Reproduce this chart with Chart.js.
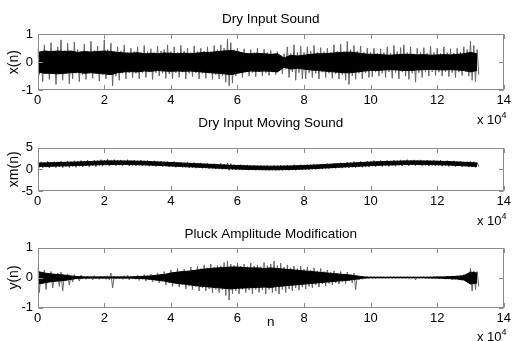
<!DOCTYPE html>
<html><head><meta charset="utf-8">
<script src="https://cdn.jsdelivr.net/npm/chart.js@4.4.1/dist/chart.umd.min.js"></script>
<style>
html,body{margin:0;padding:0;background:#fff;overflow:hidden;width:514px;height:341px;}
canvas{position:absolute;left:0;}
.exp{position:absolute;left:477px;font:13px "Liberation Sans",Arial,sans-serif;line-height:15px;color:#000;white-space:nowrap;}
.exp sup{font-size:9px;vertical-align:6px;line-height:0;}
</style></head><body>
<canvas id="c1" width="514" height="110" style="top:0px"></canvas>
<canvas id="c2" width="514" height="106" style="top:105px"></canvas>
<canvas id="c3" width="514" height="130" style="top:211px"></canvas>
<div class="exp" style="top:112px">x 10<sup>4</sup></div>
<div class="exp" style="top:213px">x 10<sup>4</sup></div>
<div class="exp" style="top:329px">x 10<sup>4</sup></div>
<script>
// ---- tick labels / axes ----
const xTickValues = [0, 20000, 40000, 60000, 80000, 100000, 120000, 140000];
const titles = ['Dry Input Sound', 'Dry Input Moving Sound', 'Pluck Amplitude Modification'];
const yLabels = ['x(n)', 'xm(n)', 'y(n)'];
const SPIKE_STEP = 1000;   // samples between envelope readings (spikes)
const CORE_STEP = 2000;    // samples between envelope readings (dense core)

// ---- x(n): Dry Input Sound ----
const xSpikeHi = [0.5,0.35,0.62,0.4,0.7,0.38,0.55,0.8,0.42,0.68,
 0.4,0.72,0.45,0.38,0.65,0.4,0.75,0.42,0.58,0.4,
 0.8,0.45,0.68,0.38,0.55,0.4,0.62,0.35,0.5,0.38,
 0.55,0.36,0.6,0.38,0.48,0.35,0.58,0.4,0.45,0.62,
 0.38,0.55,0.36,0.6,0.4,0.5,0.35,0.58,0.38,0.5,
 0.4,0.55,0.38,0.6,0.45,0.62,0.5,0.82,0.7,0.45,
 0.5,0.35,0.48,0.32,0.45,0.35,0.5,0.32,0.46,0.35,
 0.42,0.3,0.38,0.25,0.3,0.55,0.3,0.62,0.35,0.58,
 0.35,0.55,0.4,0.6,0.36,0.52,0.38,0.5,0.35,0.62,
 0.4,0.65,0.38,0.75,0.45,0.6,0.4,0.58,0.35,0.5,
 0.36,0.5,0.32,0.48,0.35,0.55,0.33,0.6,0.38,0.52,
 0.62,0.35,0.55,0.3,0.5,0.36,0.52,0.32,0.58,0.35,
 0.5,0.32,0.55,0.35,0.48,0.33,0.5,0.36,0.55,0.45,
 0.75,0.6,0.45];
const xSpikeLo = [-0.45,-0.7,-0.38,-0.62,-0.4,-0.8,-0.42,-0.65,-0.4,-0.78,
 -0.6,-0.4,-0.7,-0.45,-0.62,-0.4,-0.58,-0.42,-0.68,-0.45,
 -0.6,-0.42,-0.85,-0.5,-0.65,-0.4,-0.6,-0.38,-0.55,-0.4,
 -0.6,-0.38,-0.55,-0.36,-0.62,-0.38,-0.5,-0.4,-0.58,-0.42,
 -0.6,-0.38,-0.55,-0.36,-0.6,-0.4,-0.52,-0.38,-0.6,-0.4,
 -0.58,-0.4,-0.62,-0.45,-0.6,-0.5,-0.72,-0.85,-0.75,-0.5,
 -0.38,-0.55,-0.36,-0.5,-0.38,-0.52,-0.35,-0.5,-0.38,-0.48,
 -0.36,-0.45,-0.32,-0.42,-0.25,-0.55,-0.35,-0.65,-0.38,-0.6,
 -0.6,-0.38,-0.55,-0.4,-0.6,-0.36,-0.55,-0.4,-0.58,-0.42,
 -0.6,-0.45,-0.65,-0.8,-0.5,-0.62,-0.4,-0.6,-0.38,-0.55,
 -0.52,-0.36,-0.5,-0.4,-0.55,-0.35,-0.58,-0.38,-0.6,-0.36,
 -0.5,-0.62,-0.4,-0.72,-0.38,-0.55,-0.36,-0.5,-0.35,-0.48,
 -0.36,-0.5,-0.35,-0.52,-0.38,-0.55,-0.36,-0.48,-0.35,-0.5,
 -0.65,-0.7,-0.45];
const xCoreHi = [0.35,0.4,0.38,0.4,0.38,0.4,0.35,0.38,0.36,0.38,0.4,
 0.38,0.35,0.33,0.32,0.34,0.3,0.32,0.3,0.33,0.32,
 0.3,0.32,0.3,0.33,0.35,0.35,0.38,0.4,0.42,0.38,
 0.32,0.3,0.32,0.3,0.28,0.3,0.15,0.25,0.22,0.25,
 0.28,0.3,0.3,0.32,0.34,0.35,0.36,0.33,0.3,0.28,
 0.28,0.26,0.25,0.27,0.28,0.28,0.26,0.27,0.25,0.26,
 0.27,0.26,0.28,0.3,0.35,0.3];
const xCoreLo = [-0.35,-0.4,-0.4,-0.42,-0.4,-0.38,-0.36,-0.4,-0.38,-0.4,-0.42,
 -0.45,-0.38,-0.35,-0.34,-0.35,-0.32,-0.33,-0.3,-0.32,-0.33,
 -0.32,-0.33,-0.32,-0.34,-0.36,-0.38,-0.4,-0.42,-0.45,-0.4,
 -0.35,-0.32,-0.33,-0.32,-0.33,-0.35,-0.18,-0.25,-0.22,-0.25,
 -0.28,-0.3,-0.32,-0.34,-0.36,-0.38,-0.38,-0.35,-0.32,-0.3,
 -0.3,-0.28,-0.27,-0.28,-0.3,-0.3,-0.28,-0.27,-0.26,-0.27,
 -0.28,-0.27,-0.28,-0.3,-0.35,-0.3];

// ---- xm(n): Dry Input Moving Sound ----
const xmSpikeHi = [1.55,1.7,1.6,1.8,1.6,1.75,1.7,1.85,1.7,1.9,
 1.75,1.95,1.8,2.0,1.85,2.05,1.9,2.1,2.0,2.2,
 2.05,2.3,2.05,2.2,2.05,2.15,2.0,2.2,2.0,2.1,
 1.95,2.1,1.95,2.05,1.85,1.95,1.8,1.9,1.75,1.8,
 1.65,1.75,1.6,1.65,1.5,1.6,1.45,1.55,1.4,1.45,
 1.3,1.4,1.25,1.3,1.2,1.35,1.2,1.45,1.3,1.1,
 1.0,1.05,0.95,1.0,0.9,0.95,0.85,0.9,0.85,0.9,
 0.8,0.9,0.85,0.95,0.85,1.0,0.9,1.05,0.95,1.05,
 1.0,1.1,1.05,1.15,1.1,1.2,1.2,1.3,1.25,1.4,
 1.35,1.5,1.45,1.65,1.55,1.75,1.65,1.8,1.7,1.9,
 1.8,2.0,1.85,2.0,1.9,2.05,1.95,2.1,2.0,2.15,
 2.05,2.2,2.05,2.15,2.0,2.15,2.0,2.1,1.95,2.05,
 1.95,2.05,1.9,2.0,1.85,1.95,1.8,1.85,1.7,1.75,
 1.8,1.75,1.5];
const xmSpikeLo = [0.45,0.35,0.5,0.3,0.55,0.4,0.55,0.35,0.6,0.4,
 0.65,0.45,0.7,0.5,0.75,0.55,0.8,0.6,0.85,0.7,
 0.9,0.75,0.95,0.8,0.95,0.8,0.95,0.75,0.9,0.8,
 0.9,0.75,0.85,0.7,0.8,0.65,0.75,0.6,0.7,0.55,
 0.6,0.45,0.55,0.4,0.45,0.3,0.4,0.25,0.35,0.2,
 0.25,0.1,0.2,0.05,0.1,-0.05,0.0,-0.25,-0.1,-0.15,
 -0.1,-0.2,-0.15,-0.22,-0.2,-0.25,-0.22,-0.25,-0.25,-0.28,
 -0.25,-0.3,-0.25,-0.28,-0.22,-0.28,-0.2,-0.25,-0.15,-0.2,
 -0.1,-0.15,0.0,-0.05,0.1,0.05,0.15,0.1,0.25,0.2,
 0.3,0.25,0.4,0.3,0.45,0.35,0.5,0.45,0.6,0.5,
 0.7,0.55,0.75,0.6,0.8,0.65,0.85,0.7,0.9,0.75,
 0.95,0.8,0.95,0.8,0.95,0.8,0.9,0.75,0.9,0.75,
 0.85,0.7,0.85,0.65,0.8,0.6,0.75,0.55,0.7,0.5,
 0.5,0.4,0.6];
const xmCoreHi = [1.4,1.45,1.5,1.55,1.58,1.62,1.68,1.73,1.78,1.84,1.9,
 1.92,1.92,1.9,1.88,1.85,1.82,1.75,1.68,1.62,1.55,
 1.48,1.4,1.35,1.28,1.2,1.12,1.05,0.98,0.9,0.85,
 0.8,0.76,0.73,0.7,0.7,0.7,0.72,0.75,0.8,0.85,
 0.92,1.0,1.08,1.16,1.25,1.33,1.4,1.48,1.55,1.65,
 1.7,1.76,1.8,1.85,1.9,1.92,1.92,1.9,1.88,1.85,
 1.8,1.75,1.68,1.6,1.52,1.45];
const xmCoreLo = [0.6,0.65,0.7,0.75,0.78,0.82,0.88,0.93,0.98,1.04,1.1,
 1.12,1.12,1.1,1.08,1.05,1.02,0.95,0.88,0.82,0.75,
 0.68,0.6,0.55,0.48,0.4,0.32,0.25,0.18,0.1,0.05,
 0.0,-0.04,-0.07,-0.1,-0.1,-0.1,-0.08,-0.05,0.0,0.05,
 0.12,0.2,0.28,0.36,0.45,0.53,0.6,0.68,0.75,0.85,
 0.9,0.96,1.0,1.05,1.1,1.12,1.12,1.1,1.08,1.05,
 1.0,0.95,0.88,0.8,0.72,0.65];

// ---- y(n): Pluck Amplitude Modification ----
const ySpikeHi = [0.35,0.15,0.25,0.1,0.2,0.08,0.15,0.18,0.06,0.12,
 0.05,0.1,0.04,0.08,0.03,0.05,0.04,0.06,0.03,0.05,
 0.04,0.06,0.15,0.04,0.05,0.03,0.06,0.08,0.04,0.05,
 0.08,0.04,0.1,0.06,0.12,0.08,0.15,0.1,0.2,0.12,
 0.25,0.18,0.3,0.2,0.28,0.22,0.35,0.25,0.38,0.3,
 0.42,0.32,0.45,0.35,0.4,0.38,0.5,0.55,0.45,0.4,
 0.48,0.38,0.45,0.36,0.48,0.38,0.42,0.36,0.5,0.4,
 0.45,0.55,0.4,0.48,0.35,0.42,0.32,0.38,0.3,0.38,
 0.28,0.35,0.25,0.32,0.22,0.3,0.2,0.25,0.18,0.22,
 0.15,0.2,0.12,0.18,0.1,0.15,0.06,0.05,0.03,0.03,
 0.03,0.02,0.02,0.02,0.02,0.02,0.02,0.02,0.02,0.02,
 0.02,0.02,0.02,0.03,0.02,0.02,0.03,0.02,0.03,0.03,
 0.03,0.04,0.03,0.04,0.05,0.04,0.06,0.08,0.1,0.12,
 0.3,0.22,0.2];
const ySpikeLo = [-0.5,-0.2,-0.4,-0.15,-0.35,-0.12,-0.3,-0.45,-0.1,-0.25,
 -0.15,-0.05,-0.12,-0.04,-0.06,-0.04,-0.08,-0.03,-0.06,-0.04,
 -0.06,-0.08,-0.35,-0.05,-0.04,-0.06,-0.04,-0.08,-0.05,-0.06,
 -0.1,-0.06,-0.12,-0.08,-0.15,-0.1,-0.18,-0.12,-0.25,-0.18,
 -0.3,-0.2,-0.32,-0.25,-0.38,-0.28,-0.4,-0.3,-0.45,-0.35,
 -0.45,-0.38,-0.52,-0.4,-0.5,-0.42,-0.6,-0.75,-0.55,-0.45,
 -0.55,-0.4,-0.5,-0.42,-0.55,-0.4,-0.5,-0.42,-0.55,-0.4,
 -0.5,-0.45,-0.55,-0.4,-0.5,-0.38,-0.45,-0.35,-0.42,-0.32,
 -0.38,-0.3,-0.35,-0.25,-0.32,-0.22,-0.28,-0.2,-0.25,-0.18,
 -0.22,-0.15,-0.2,-0.12,-0.18,-0.4,-0.08,-0.06,-0.04,-0.04,
 -0.03,-0.02,-0.02,-0.02,-0.03,-0.02,-0.02,-0.02,-0.02,-0.02,
 -0.02,-0.02,-0.03,-0.08,-0.02,-0.02,-0.03,-0.02,-0.03,-0.04,
 -0.05,-0.04,-0.06,-0.05,-0.08,-0.06,-0.08,-0.1,-0.12,-0.15,
 -0.45,-0.4,-0.3];
const yCoreHi = [0.2,0.15,0.12,0.1,0.08,0.05,0.03,0.02,0.02,0.02,0.02,
 0.02,0.02,0.02,0.02,0.03,0.04,0.05,0.08,0.1,0.15,
 0.18,0.2,0.22,0.25,0.28,0.3,0.32,0.33,0.35,0.35,
 0.33,0.32,0.32,0.3,0.32,0.3,0.28,0.26,0.24,0.22,
 0.2,0.18,0.16,0.14,0.12,0.1,0.08,0.05,0.02,0.01,
 0.01,0.01,0.01,0.01,0.01,0.01,0.01,0.01,0.01,0.02,
 0.02,0.03,0.04,0.06,0.18,0.15];
const yCoreLo = [-0.22,-0.18,-0.14,-0.12,-0.1,-0.06,-0.03,-0.02,-0.02,-0.02,-0.02,
 -0.02,-0.02,-0.02,-0.02,-0.03,-0.04,-0.06,-0.09,-0.12,-0.16,
 -0.2,-0.22,-0.25,-0.28,-0.3,-0.32,-0.34,-0.36,-0.38,-0.36,
 -0.35,-0.34,-0.33,-0.32,-0.33,-0.3,-0.28,-0.26,-0.24,-0.22,
 -0.2,-0.18,-0.16,-0.14,-0.12,-0.1,-0.08,-0.05,-0.02,-0.01,
 -0.01,-0.01,-0.01,-0.01,-0.01,-0.01,-0.01,-0.01,-0.02,-0.02,
 -0.03,-0.04,-0.05,-0.08,-0.22,-0.18];

// ---- helpers ----
const FONT = '"Liberation Sans", Arial, sans-serif';
function zigzag(hi, lo, step) {
  const pts = [];
  for (let i = 0; i < hi.length; i++) {
    pts.push({x: i * step, y: hi[i]});
    pts.push({x: i * step + step / 2, y: lo[i]});
  }
  return pts;
}
function series(vals, step) { return vals.map((v, i) => ({x: i * step, y: v})); }

const boxPlugin = {
  id: 'matlabBox',
  afterDatasetsDraw(chart) {
    const {ctx, chartArea: a, scales} = chart;
    const L = Math.round(a.left) + 0.5, R = Math.round(a.right) - 0.5;
    const T = Math.round(a.top) + 0.5, B = Math.round(a.bottom) - 0.5;
    ctx.save();
    ctx.strokeStyle = '#8c8c8c';
    ctx.lineWidth = 1;
    ctx.strokeRect(L, T, R - L, B - T);
    ctx.beginPath();
    const tl = 4.5;
    scales.x.ticks.forEach(t => {
      const px = Math.round(scales.x.getPixelForValue(t.value)) + 0.5;
      ctx.moveTo(px, T); ctx.lineTo(px, T + tl);
      ctx.moveTo(px, B); ctx.lineTo(px, B - tl);
    });
    scales.y.ticks.forEach(t => {
      const py = Math.round(scales.y.getPixelForValue(t.value)) + 0.5;
      ctx.moveTo(L, py); ctx.lineTo(L + tl, py);
      ctx.moveTo(R, py); ctx.lineTo(R - tl, py);
    });
    ctx.stroke();
    ctx.restore();
  }
};

function makeChart(id, c) {
  new Chart(document.getElementById(id), {
    type: 'line',
    data: {datasets: [
      {data: series(c.coreHi, CORE_STEP), borderColor: '#000', backgroundColor: '#000', borderWidth: 1, fill: '+1', pointRadius: 0, tension: 0},
      {data: series(c.coreLo, CORE_STEP), borderColor: '#000', borderWidth: 1, fill: false, pointRadius: 0, tension: 0},
      {data: zigzag(c.spikeHi, c.spikeLo, SPIKE_STEP), borderColor: c.spikeColor, borderWidth: 1, fill: false, pointRadius: 0, tension: 0}
    ]},
    options: {
      responsive: false, animation: false, events: [],
      layout: {padding: {left: 0, right: 8, top: 0, bottom: 0}},
      plugins: {
        legend: {display: false}, tooltip: {enabled: false},
        title: {display: true, text: c.title, fullSize: false, color: '#000',
          font: {family: FONT, size: 13.5, weight: 'normal', lineHeight: 1.2},
          padding: {top: c.tpt, bottom: c.tpb}}
      },
      scales: {
        x: {type: 'linear', min: 0, max: 140000,
          afterFit: s => { s.height = c.xh; },
          afterBuildTicks: s => { s.ticks = xTickValues.map(v => ({value: v})); },
          ticks: {callback: v => v / 10000, font: {family: FONT, size: 13}, color: '#000', padding: 3, maxRotation: 0, autoSkip: false},
          grid: {display: false, drawTicks: false}, border: {display: false},
          title: c.xtitle ? {display: true, text: c.xtitle, color: '#000', font: {family: FONT, size: 13.5}, padding: {top: 0, bottom: c.xtpb}} : {display: false}
        },
        y: {type: 'linear', min: c.ymin, max: c.ymax,
          afterFit: s => { s.width = 37.7; },
          ticks: {stepSize: c.ystep, font: {family: FONT, size: 13}, color: '#000', padding: 4.7},
          grid: {display: false, drawTicks: false}, border: {display: false},
          title: {display: true, text: c.ylabel, color: '#000', font: {family: FONT, size: 14}, padding: {top: 6, bottom: 0}}
        }
      }
    },
    plugins: [boxPlugin]
  });
}

makeChart('c1', {title: titles[0], ylabel: yLabels[0], ymin: -1, ymax: 1, ystep: 1,
  spikeHi: xSpikeHi, spikeLo: xSpikeLo, coreHi: xCoreHi, coreLo: xCoreLo, spikeColor: '#666',
  tpt: 11, tpb: 7.1, xh: 20});
makeChart('c2', {title: titles[1], ylabel: yLabels[1], ymin: -5, ymax: 5, ystep: 5,
  spikeHi: xmSpikeHi, spikeLo: xmSpikeLo, coreHi: xmCoreHi, coreLo: xmCoreLo, spikeColor: '#444',
  tpt: 10.2, tpb: 16.1, xh: 20});
makeChart('c3', {title: titles[2], ylabel: yLabels[2], ymin: -1, ymax: 1, ystep: 1,
  spikeHi: ySpikeHi, spikeLo: ySpikeLo, coreHi: yCoreHi, coreLo: yCoreLo, spikeColor: '#666',
  tpt: 14.9, tpb: 5.4, xh: 33.5, xtitle: 'n', xtpb: 10.2});
</script>
</body></html>
